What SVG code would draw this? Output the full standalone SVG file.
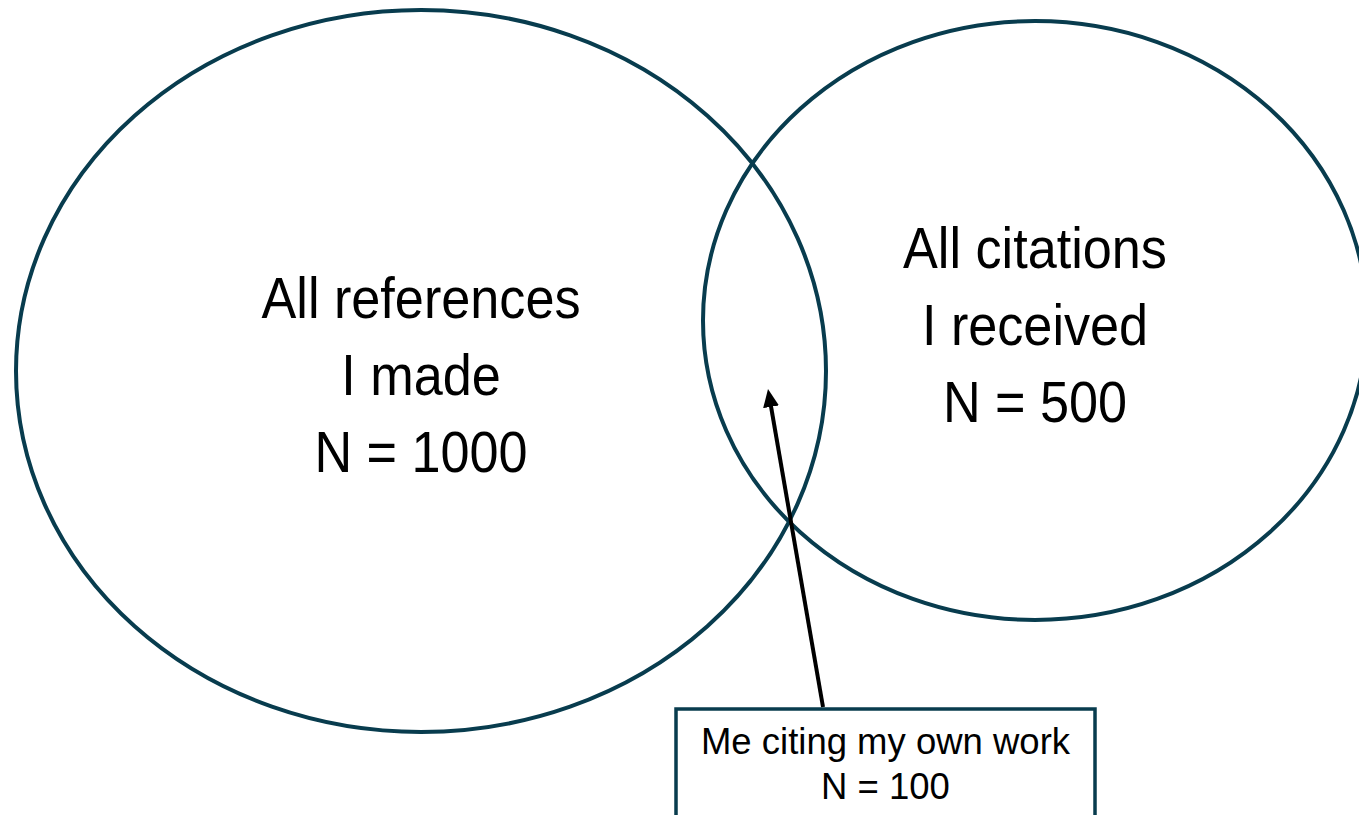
<svg xmlns="http://www.w3.org/2000/svg" width="1359" height="815" viewBox="0 0 1359 815">
  <style>
    .circle { fill: none; stroke: #083c4e; stroke-width: 4; }
    .big { font-family: "Liberation Sans", Arial, sans-serif; font-size: 58px; fill: #000; text-anchor: middle; }
    .small { font-family: "Liberation Sans", Arial, sans-serif; font-size: 36.5px; fill: #000; text-anchor: middle; }
    .box { fill: #fff; stroke: #083c4e; stroke-width: 3.5; }
    .conn { stroke: #000; stroke-width: 4; fill: none; }
  </style>
  <defs>
    <marker id="arrow" markerUnits="userSpaceOnUse" markerWidth="20" markerHeight="18" refX="8" refY="8" orient="auto">
      <path d="M0,0 L18,8 L0,16 z" fill="#000"/>
    </marker>
  </defs>
  <rect width="1359" height="815" fill="#fff"/>
  <g id="references">
    <ellipse class="circle" cx="421" cy="371" rx="405" ry="361"/>
    <g transform="translate(421,0) scale(0.9,1)">
      <text class="big" x="0" y="318">All references</text>
      <text class="big" x="0" y="395">I made</text>
      <text class="big" x="0" y="472">N = 1000</text>
    </g>
  </g>
  <g id="citations">
    <ellipse class="circle" cx="1035" cy="320.5" rx="332" ry="299.5"/>
    <g transform="translate(1035,0) scale(0.9,1)">
      <text class="big" x="0" y="268">All citations</text>
      <text class="big" x="0" y="345">I received</text>
      <text class="big" x="0" y="422">N = 500</text>
    </g>
  </g>
  <g id="self-citation">
    <rect class="box" x="676" y="709" width="419" height="120"/>
    <text class="small" x="885.5" y="754">Me citing my own work</text>
    <text class="small" x="885.5" y="799">N = 100</text>
  </g>
  <g id="connectors">
    <line class="conn" x1="823" y1="707" x2="769.7" y2="398.9" marker-end="url(#arrow)"/>
  </g>
</svg>
